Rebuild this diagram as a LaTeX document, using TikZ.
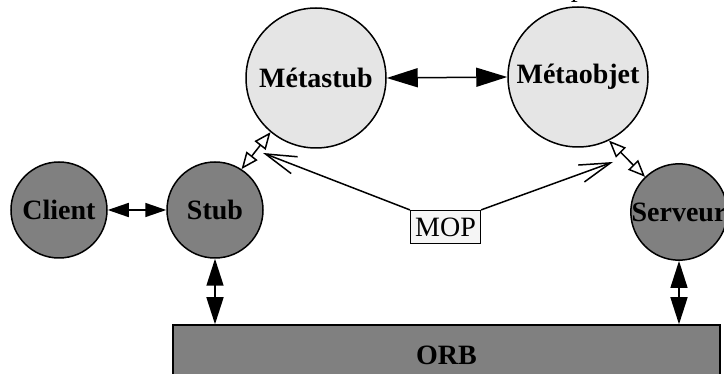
\documentclass[tikz,border=0pt]{standalone}
\usepackage{fontspec}
\setmainfont{Liberation Serif}
\usetikzlibrary{arrows.meta}
\definecolor{metafill}{HTML}{E5E5E5}
\definecolor{basefill}{HTML}{808080}
\definecolor{tagfill}{HTML}{F5F5F5}
\begin{document}
\begin{tikzpicture}[x=1pt,y=-1pt,line width=1.5pt,
  every node/.style={font=\fontsize{28}{32}\selectfont},
  metanode/.style={circle,draw,fill=metafill,minimum size=140pt,inner sep=0pt,font=\fontsize{28}{32}\selectfont\bfseries},
  basenode/.style={circle,draw,fill=basefill,minimum size=96pt,inner sep=0pt,font=\fontsize{28}{32}\selectfont\bfseries},
  orbbox/.style={rectangle,draw,fill=basefill,minimum width=547pt,minimum height=60pt,inner sep=0pt,font=\fontsize{28}{32}\selectfont\bfseries},
  tagbox/.style={rectangle,draw,fill=tagfill,minimum width=70pt,minimum height=33pt,inner sep=0pt,line width=1.2pt},
  bigtwoway/.style={{Triangle[length=31pt,width=19pt]}-{Triangle[length=31pt,width=19pt]}},
  midtwoway/.style={{Triangle[length=27pt,width=17pt]}-{Triangle[length=27pt,width=17pt]}},
  smalltwoway/.style={{Triangle[length=21pt,width=14pt]}-{Triangle[length=21pt,width=14pt]}},
  opentwoway/.style={{Triangle[open,length=17pt,width=14pt]}-{Triangle[open,length=17pt,width=14pt]}},
  reflect/.style={-{Straight Barb[length=31pt,width=18pt,line width=1.5pt]}}]
\useasboundingbox (0,0) rectangle (724,374);

% top-level caption, mostly above the frame
\node[anchor=base west,inner sep=0pt] (cap) at (570,-3.5) {p};

% meta level
\node[metanode] (ms) at (316,78) {Métastub};
\node[metanode] (mo) at (578,77) {Métaobjet};

% base level
\node[basenode] (cl) at (59,210) {Client};
\node[basenode] (st) at (215,210) {Stub};
\node[basenode] (sv) at (679,212) {Serveur};

% the broker
\node[orbbox] (orb) at (446.5,355) {ORB};

% meta-object protocol
\node[tagbox] (mop) at (445.5,227) {MOP};
\coordinate (mopL) at (263,153);
\coordinate (mopR) at (613,162);

% connectors
\draw[bigtwoway] (ms.east) -- (mo.west);
\draw[smalltwoway] (cl) -- (st);
\draw[midtwoway] (st.south) -- (st.south |- orb.north);
\draw[midtwoway] (sv.south) -- (sv.south |- orb.north);
\draw[opentwoway] (st.57) -- (ms.-130);
\draw[opentwoway] (sv.134) -- (mo.-64);
\draw[reflect] (mop.north west) -- (mopL);
\draw[reflect] (mop.north east) -- (mopR);
\end{tikzpicture}
\end{document}
